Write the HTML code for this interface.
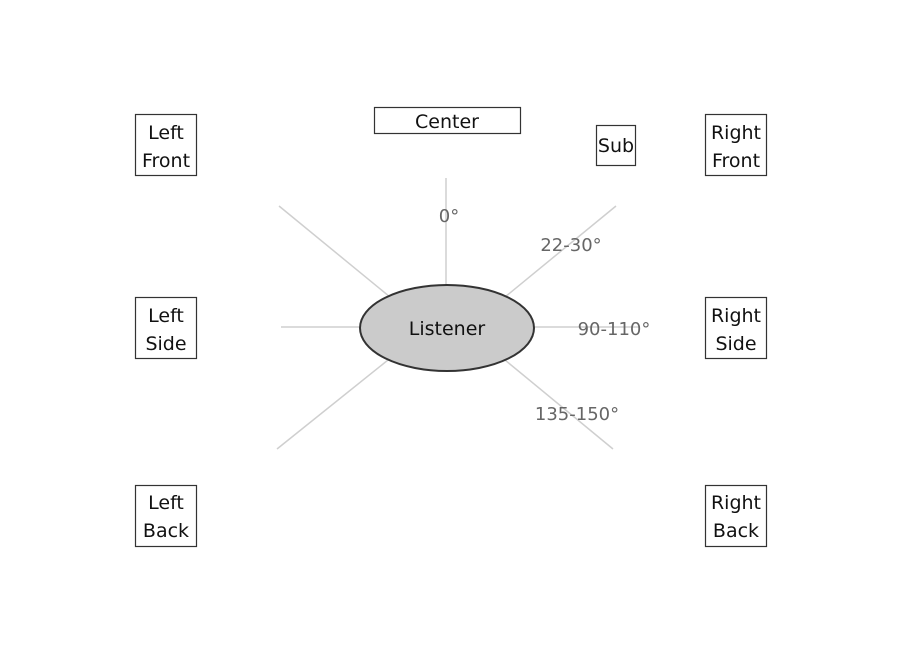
<!DOCTYPE html>
<html><head><style>
body{margin:0;background:#fff;}
svg text{font-family:"DejaVu Sans","Liberation Sans",sans-serif;}
</style></head><body>
<svg width="900" height="650" xmlns="http://www.w3.org/2000/svg">
<rect width="900" height="650" fill="#fff"/>
<g stroke="#cfcfcf" stroke-width="1.5">
<line x1="446" y1="178" x2="446" y2="286"/>
<line x1="279" y1="206" x2="390" y2="297"/>
<line x1="616" y1="206" x2="505" y2="297"/>
<line x1="281" y1="327" x2="361" y2="327"/>
<line x1="533" y1="327" x2="640" y2="327"/>
<line x1="277" y1="449" x2="388" y2="360"/>
<line x1="505" y1="360" x2="613" y2="449"/>
</g>
<ellipse cx="447" cy="328" rx="87" ry="43" fill="#cbcbcb" stroke="#333" stroke-width="2"/>
<text x="447" y="335" font-size="19" text-anchor="middle" fill="#111">Listener</text>
<g fill="#666" font-size="18" text-anchor="middle">
<text x="449" y="222">0°</text>
<text x="571" y="251">22-30°</text>
<text x="614" y="335">90-110°</text>
<text x="577" y="420">135-150°</text>
</g>
<g fill="#fff" stroke="#333" stroke-width="1.2">
<rect x="135.5" y="114.5" width="61" height="61"/>
<rect x="374.5" y="107.5" width="146" height="26"/>
<rect x="596.5" y="125.5" width="39" height="40"/>
<rect x="705.5" y="114.5" width="61" height="61"/>
<rect x="135.5" y="297.5" width="61" height="61"/>
<rect x="705.5" y="297.5" width="61" height="61"/>
<rect x="135.5" y="485.5" width="61" height="61"/>
<rect x="705.5" y="485.5" width="61" height="61"/>
</g>
<g fill="#111" font-size="19" text-anchor="middle">
<text x="166" y="139">Left</text><text x="166" y="167">Front</text>
<text x="447" y="128">Center</text>
<text x="616" y="152">Sub</text>
<text x="736" y="139">Right</text><text x="736" y="167">Front</text>
<text x="166" y="322">Left</text><text x="166" y="350">Side</text>
<text x="736" y="322">Right</text><text x="736" y="350">Side</text>
<text x="166" y="509">Left</text><text x="166" y="537">Back</text>
<text x="736" y="509">Right</text><text x="736" y="537">Back</text>
</g>
</svg>
</body></html>
